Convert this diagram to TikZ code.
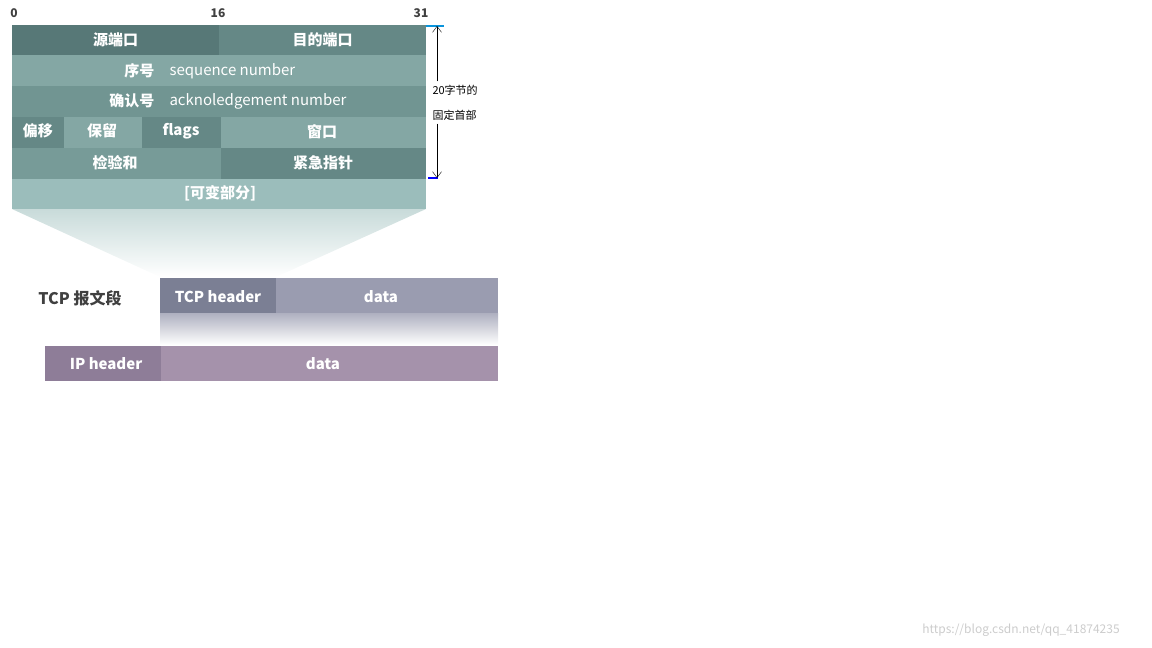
\documentclass[tikz,border=0pt]{standalone}
\usepackage{fontspec}
\setmainfont{Noto Sans CJK SC}
\newfontfamily\cjkb{Noto Sans CJK SC Bold}
\usetikzlibrary{arrows.meta}
\definecolor{cA}{HTML}{577877}
\definecolor{cB}{HTML}{658886}
\definecolor{cC}{HTML}{84A7A4}
\definecolor{cD}{HTML}{719592}
\definecolor{cE}{HTML}{779B98}
\definecolor{cF}{HTML}{9BBDBB}
\definecolor{tH}{HTML}{7B7F94}
\definecolor{tD}{HTML}{9A9CB0}
\definecolor{iH}{HTML}{8E7D98}
\definecolor{iD}{HTML}{A592AB}
\tikzset{
 fld/.style={text=white,font=\bfseries\fontsize{15}{18}\selectfont},
 lt/.style={text=white,font=\fontsize{15}{18}\selectfont},
 num/.style={font=\bfseries\fontsize{12}{14}\selectfont,text=black!75},
 sm/.style={font=\fontsize{11}{13}\selectfont}
}
\begin{document}
\begin{tikzpicture}[x=1pt,y=-1pt]
\useasboundingbox (0,0) rectangle (1152,648);
% trapezoid
\shade[top color=cF!55,bottom color=white] (12,209) -- (426,209) -- (276,277) -- (160,277) -- cycle;
% rows
\fill[cA] (12,25) rectangle (219,55);
\fill[cB] (219,25) rectangle (426,55);
\fill[cC] (12,55) rectangle (426,86);
\fill[cD] (12,86) rectangle (426,117);
\fill[cB] (12,117) rectangle (64,148);
\fill[cC] (64,117) rectangle (142,148);
\fill[cB] (142,117) rectangle (221,148);
\fill[cC] (221,117) rectangle (426,148);
\fill[cE] (12,148) rectangle (221,179);
\fill[cB] (221,148) rectangle (426,179);
\fill[cF] (12,179) rectangle (426,209);
\node[fld] (src) at (115.5,40) {源端口};
\node[fld] (dst) at (322.5,40) {目的端口};
\node[fld,anchor=east] (seq) at (158,71) {序号};
\node[lt,anchor=west] (seqe) at (166,71) {sequence number};
\node[fld,anchor=east] (ack) at (158,101) {确认号};
\node[lt,anchor=west] (acke) at (166,101) {acknoledgement number};
\node[fld] (off) at (38,131) {偏移};
\node[fld] (res) at (102,131) {保留};
\node[fld] (flg) at (181,131) {flags};
\node[fld] (win) at (322,132) {窗口};
\node[fld] (chk) at (115,163) {检验和};
\node[fld] (urg) at (323,163) {紧急指针};
\node[fld] (opt) at (220,193) {[可变部分]};
\node[num] (n0) at (14,13) {0};
\node[num] (n16) at (218,13) {16};
\node[num] (n31) at (421,13) {31};
% dimension
\draw[cyan!80!blue,line width=2pt] (426,26) -- (444,26);
\draw[blue,line width=1.5pt] (428,178) -- (438,178);
\coordinate (dt) at (437,26);
\coordinate (db) at (437,178);
\node[sm,anchor=west] (l1) at (429,90) {20字节的};
\node[sm,anchor=west] (l2) at (429,115) {固定首部};
\draw[-{Straight Barb[length=6pt,width=9pt]},thin] (l1.north -| dt) -- (dt);
\draw[-{Straight Barb[length=6pt,width=9pt]},thin] (l2.south -| db) -- (db);
% TCP segment
\shade[top color=tD!80,bottom color=white] (160,313) rectangle (498,345);
\fill[tH] (160,278) rectangle (276,313);
\fill[tD] (276,278) rectangle (498,313);
\node[fld] (th) at (218,297) {TCP header};
\node[fld] (td) at (381,297) {data};
\node[font=\bfseries\fontsize{16}{19}\selectfont,text=black!75] (tl) at (80,298) {TCP 报文段};
\fill[iH] (45,346) rectangle (161,381);
\fill[iD] (161,346) rectangle (498,381);
\node[fld] (ih) at (106,364) {IP header};
\node[fld] (id) at (323,364) {data};
\node[font=\fontsize{12}{14}\selectfont,text=black!20] (wm) at (1021,630) {https://blog.csdn.net/qq\_41874235};
\end{tikzpicture}
\end{document}
